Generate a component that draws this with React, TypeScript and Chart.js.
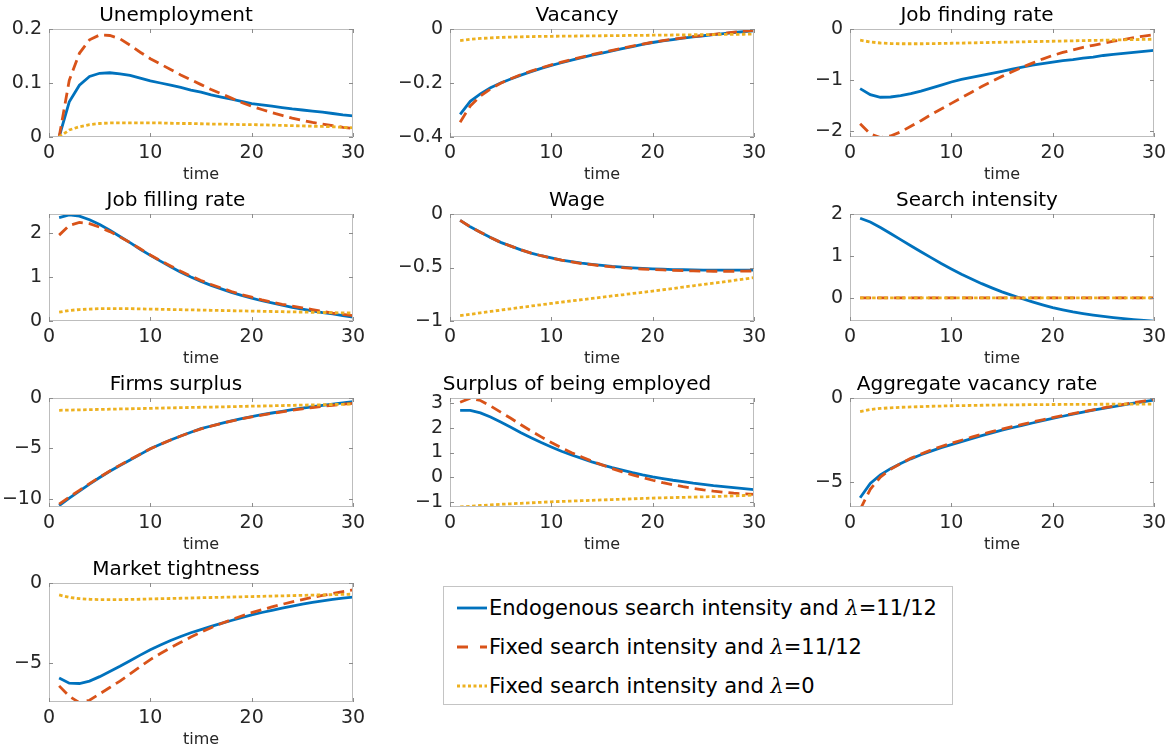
import React, { useEffect, useRef } from "react";
import { Chart, registerables } from "chart.js";
Chart.register(...registerables);

const FONT = "DejaVu Sans";
const BLUE = "#0072BD";
const RED = "#D95319";
const YELLOW = "#EDB120";

const time = [1, 2, 3, 4, 5, 6, 7, 8, 9, 10, 11, 12, 13, 14, 15, 16, 17, 18, 19, 20, 21, 22, 23, 24, 25, 26, 27, 28, 29, 30];
const xTicks = [0, 10, 20, 30];

const seriesLabels = [
  "Endogenous search intensity and λ=11/12",
  "Fixed search intensity and λ=11/12",
  "Fixed search intensity and λ=0",
];

const titles = [
  "Unemployment", "Vacancy", "Job finding rate", "Job filling rate", "Wage",
  "Search intensity", "Firms surplus", "Surplus of being employed",
  "Aggregate vacancy rate", "Market tightness",
];

// Unemployment
const uEndo = [0, 0.065, 0.096, 0.112, 0.118, 0.119, 0.117, 0.114, 0.109, 0.104, 0.100, 0.096, 0.092, 0.087, 0.083, 0.078, 0.074, 0.070, 0.066, 0.062, 0.0595, 0.057, 0.0545, 0.052, 0.050, 0.048, 0.046, 0.0435, 0.041, 0.039];
const uFixed = [0, 0.105, 0.155, 0.180, 0.189, 0.188, 0.182, 0.170, 0.157, 0.145, 0.135, 0.125, 0.115, 0.106, 0.097, 0.088, 0.080, 0.072, 0.064, 0.057, 0.051, 0.045, 0.040, 0.035, 0.031, 0.027, 0.024, 0.021, 0.018, 0.016];
const uZero = [0, 0.013, 0.019, 0.023, 0.025, 0.026, 0.026, 0.026, 0.026, 0.026, 0.026, 0.0255, 0.025, 0.025, 0.0245, 0.024, 0.024, 0.0235, 0.023, 0.023, 0.0225, 0.022, 0.0215, 0.021, 0.0205, 0.020, 0.0195, 0.019, 0.018, 0.017];

// Vacancy
const vEndo = [-0.316, -0.268, -0.240, -0.218, -0.200, -0.185, -0.171, -0.158, -0.146, -0.135, -0.125, -0.115, -0.106, -0.097, -0.089, -0.081, -0.073, -0.065, -0.057, -0.050, -0.044, -0.039, -0.034, -0.029, -0.025, -0.021, -0.017, -0.013, -0.010, -0.007];
const vFixed = [-0.345, -0.285, -0.248, -0.222, -0.201, -0.184, -0.169, -0.156, -0.144, -0.133, -0.123, -0.113, -0.104, -0.095, -0.087, -0.079, -0.071, -0.063, -0.056, -0.049, -0.043, -0.038, -0.033, -0.028, -0.024, -0.020, -0.016, -0.012, -0.008, -0.005];
const vZero = [-0.043, -0.038, -0.035, -0.033, -0.031, -0.030, -0.029, -0.028, -0.0275, -0.027, -0.0266, -0.0262, -0.0258, -0.0254, -0.025, -0.0246, -0.0242, -0.0238, -0.0234, -0.023, -0.0226, -0.0222, -0.0218, -0.0214, -0.021, -0.0206, -0.0202, -0.0198, -0.0194, -0.019];

// Job finding rate
const fEndo = [-1.17, -1.29, -1.34, -1.335, -1.31, -1.27, -1.22, -1.16, -1.10, -1.04, -0.99, -0.95, -0.91, -0.87, -0.83, -0.79, -0.75, -0.71, -0.68, -0.65, -0.62, -0.60, -0.57, -0.55, -0.52, -0.50, -0.48, -0.46, -0.44, -0.42];
const fFixed = [-1.86, -2.06, -2.13, -2.10, -2.02, -1.91, -1.80, -1.68, -1.57, -1.46, -1.35, -1.24, -1.13, -1.03, -0.93, -0.84, -0.75, -0.67, -0.59, -0.52, -0.46, -0.41, -0.36, -0.32, -0.28, -0.24, -0.21, -0.17, -0.14, -0.11];
const fZero = [-0.22, -0.255, -0.275, -0.285, -0.29, -0.29, -0.29, -0.287, -0.284, -0.28, -0.276, -0.272, -0.268, -0.264, -0.26, -0.256, -0.252, -0.248, -0.244, -0.24, -0.236, -0.232, -0.228, -0.224, -0.22, -0.216, -0.212, -0.208, -0.204, -0.20];

// Job filling rate
const jEndo = [2.35, 2.41, 2.38, 2.30, 2.19, 2.06, 1.92, 1.78, 1.63, 1.49, 1.36, 1.23, 1.11, 1.00, 0.90, 0.81, 0.73, 0.65, 0.58, 0.52, 0.46, 0.41, 0.36, 0.31, 0.27, 0.23, 0.19, 0.16, 0.12, 0.09];
const jFixed = [1.95, 2.17, 2.24, 2.21, 2.13, 2.03, 1.91, 1.78, 1.64, 1.50, 1.37, 1.25, 1.13, 1.02, 0.92, 0.83, 0.75, 0.67, 0.60, 0.54, 0.48, 0.43, 0.38, 0.34, 0.30, 0.26, 0.22, 0.18, 0.15, 0.12];
const jZero = [0.20, 0.24, 0.26, 0.27, 0.28, 0.28, 0.28, 0.28, 0.275, 0.27, 0.2655, 0.261, 0.2565, 0.252, 0.2475, 0.243, 0.2385, 0.234, 0.2295, 0.225, 0.2205, 0.216, 0.2115, 0.207, 0.2025, 0.198, 0.1935, 0.189, 0.1845, 0.18];

// Wage
const wEndo = [-0.06, -0.12, -0.17, -0.22, -0.265, -0.30, -0.335, -0.365, -0.39, -0.41, -0.43, -0.445, -0.46, -0.47, -0.48, -0.49, -0.497, -0.503, -0.508, -0.512, -0.516, -0.519, -0.521, -0.523, -0.524, -0.525, -0.525, -0.525, -0.525, -0.524];
const wFixed = [-0.06, -0.12, -0.17, -0.22, -0.265, -0.30, -0.335, -0.365, -0.39, -0.412, -0.432, -0.448, -0.463, -0.474, -0.485, -0.494, -0.502, -0.509, -0.514, -0.519, -0.523, -0.527, -0.530, -0.532, -0.534, -0.535, -0.535, -0.535, -0.534, -0.532];
const wZero = [-0.95, -0.937, -0.924, -0.911, -0.898, -0.886, -0.873, -0.860, -0.848, -0.836, -0.824, -0.812, -0.801, -0.789, -0.778, -0.766, -0.755, -0.743, -0.732, -0.720, -0.708, -0.696, -0.683, -0.671, -0.659, -0.646, -0.634, -0.621, -0.608, -0.595];

// Search intensity
const sEndo = [1.90, 1.81, 1.68, 1.535, 1.39, 1.245, 1.10, 0.96, 0.82, 0.69, 0.565, 0.45, 0.34, 0.24, 0.145, 0.06, -0.02, -0.095, -0.165, -0.23, -0.285, -0.335, -0.375, -0.41, -0.44, -0.47, -0.495, -0.515, -0.535, -0.555];
const sFixed = [0, 0, 0, 0, 0, 0, 0, 0, 0, 0, 0, 0, 0, 0, 0, 0, 0, 0, 0, 0, 0, 0, 0, 0, 0, 0, 0, 0, 0, 0];
const sZero = [0, 0, 0, 0, 0, 0, 0, 0, 0, 0, 0, 0, 0, 0, 0, 0, 0, 0, 0, 0, 0, 0, 0, 0, 0, 0, 0, 0, 0, 0];

// Firms surplus
const fsEndo = [-10.7, -9.95, -9.25, -8.55, -7.9, -7.28, -6.7, -6.15, -5.6, -5.05, -4.6, -4.18, -3.78, -3.4, -3.05, -2.78, -2.52, -2.28, -2.05, -1.85, -1.66, -1.49, -1.32, -1.16, -1.01, -0.87, -0.74, -0.61, -0.48, -0.36];
const fsFixed = [-10.55, -9.85, -9.17, -8.5, -7.86, -7.25, -6.67, -6.12, -5.58, -5.05, -4.6, -4.18, -3.78, -3.41, -3.07, -2.8, -2.54, -2.3, -2.08, -1.88, -1.7, -1.53, -1.37, -1.22, -1.08, -0.95, -0.83, -0.72, -0.62, -0.53];
const fsZero = [-1.22, -1.2, -1.18, -1.155, -1.135, -1.115, -1.09, -1.07, -1.05, -1.03, -1.0, -0.98, -0.96, -0.94, -0.92, -0.9, -0.88, -0.86, -0.835, -0.815, -0.795, -0.775, -0.75, -0.73, -0.71, -0.69, -0.67, -0.645, -0.625, -0.6];

// Surplus of being employed
const seEndo = [2.70, 2.70, 2.60, 2.43, 2.23, 2.02, 1.80, 1.60, 1.40, 1.22, 1.05, 0.90, 0.76, 0.62, 0.50, 0.39, 0.29, 0.19, 0.10, 0.02, -0.05, -0.12, -0.18, -0.24, -0.29, -0.34, -0.38, -0.42, -0.46, -0.50];
const seFixed = [3.03, 3.19, 3.10, 2.88, 2.63, 2.38, 2.12, 1.87, 1.63, 1.40, 1.19, 0.99, 0.82, 0.65, 0.50, 0.35, 0.22, 0.10, -0.01, -0.12, -0.22, -0.30, -0.38, -0.45, -0.51, -0.56, -0.60, -0.64, -0.67, -0.69];
const seZero = [-1.2, -1.17, -1.14, -1.115, -1.09, -1.07, -1.05, -1.03, -1.01, -0.99, -0.975, -0.96, -0.945, -0.93, -0.915, -0.90, -0.885, -0.87, -0.855, -0.84, -0.83, -0.82, -0.81, -0.80, -0.79, -0.78, -0.765, -0.75, -0.735, -0.72];

// Aggregate vacancy rate
const avEndo = [-5.9, -5.05, -4.55, -4.18, -3.88, -3.6, -3.36, -3.14, -2.94, -2.76, -2.58, -2.4, -2.23, -2.06, -1.9, -1.76, -1.62, -1.48, -1.34, -1.2, -1.08, -0.96, -0.84, -0.72, -0.61, -0.51, -0.41, -0.31, -0.21, -0.12];
const avFixed = [-6.6, -5.4, -4.68, -4.22, -3.88, -3.57, -3.31, -3.08, -2.87, -2.68, -2.5, -2.32, -2.15, -1.99, -1.84, -1.7, -1.56, -1.42, -1.29, -1.16, -1.04, -0.92, -0.81, -0.7, -0.59, -0.48, -0.38, -0.28, -0.18, -0.08];
const avZero = [-0.8, -0.68, -0.62, -0.58, -0.55, -0.53, -0.51, -0.49, -0.475, -0.46, -0.45, -0.44, -0.43, -0.42, -0.41, -0.405, -0.40, -0.395, -0.39, -0.385, -0.382, -0.379, -0.376, -0.373, -0.37, -0.368, -0.366, -0.364, -0.362, -0.36];

// Market tightness
const mtEndo = [-5.95, -6.28, -6.3, -6.15, -5.87, -5.55, -5.22, -4.87, -4.52, -4.18, -3.89, -3.6, -3.35, -3.12, -2.92, -2.72, -2.53, -2.35, -2.17, -2.0, -1.85, -1.71, -1.58, -1.45, -1.32, -1.22, -1.12, -1.03, -0.95, -0.88];
const mtFixed = [-6.45, -7.1, -7.5, -7.35, -6.95, -6.55, -6.15, -5.7, -5.25, -4.8, -4.42, -4.06, -3.72, -3.39, -3.08, -2.8, -2.54, -2.3, -2.07, -1.86, -1.68, -1.5, -1.34, -1.18, -1.04, -0.9, -0.78, -0.66, -0.54, -0.43];
const mtZero = [-0.75, -0.9, -0.98, -1.02, -1.04, -1.04, -1.04, -1.03, -1.02, -1.0, -0.985, -0.97, -0.955, -0.94, -0.925, -0.91, -0.895, -0.88, -0.865, -0.85, -0.835, -0.82, -0.805, -0.79, -0.775, -0.76, -0.745, -0.73, -0.715, -0.7];

// y-axis ranges and tick labels per panel
const yRanges = [[0, 0.2], [-0.4, 0], [-2.12, 0], [0, 2.43], [-1, 0], [-0.55, 2], [-10.83, 0], [-1.2, 3.2], [-6.45, 0], [-7.46, 0]];
const yTicks = [[0, 0.1, 0.2], [-0.4, -0.2, 0], [-2, -1, 0], [0, 1, 2], [-1, -0.5, 0], [0, 1, 2], [-10, -5, 0], [-1, 0, 1, 2, 3], [-5, 0], [-5, 0]];

const panelSeries = [
  [uEndo, uFixed, uZero], [vEndo, vFixed, vZero], [fEndo, fFixed, fZero],
  [jEndo, jFixed, jZero], [wEndo, wFixed, wZero], [sEndo, sFixed, sZero],
  [fsEndo, fsFixed, fsZero], [seEndo, seFixed, seZero], [avEndo, avFixed, avZero],
  [mtEndo, mtFixed, mtZero],
];

// layout: plot box [left, top, right, bottom] in page pixels
const boxes = [
  [49, 29, 353, 137], [450, 29, 754, 137], [850, 29, 1154, 137],
  [49, 214, 353, 321], [450, 214, 754, 321], [850, 214, 1154, 321],
  [49, 398, 353, 507], [450, 398, 754, 507], [850, 398, 1154, 507],
  [49, 583, 353, 702],
];
const Y_W = 50, TITLE_H = 29, X_H = 50, R_PAD = 20;

const fmt = (v: number) => {
  const s = String(Number(Math.abs(v).toFixed(3)));
  return v < 0 ? "\u2212" + s : s;
};

const boxPlugin = {
  id: "matlabBox",
  afterDatasetsDraw(chart: any) {
    const { ctx, chartArea: a, scales } = chart;
    const x = scales.x, y = scales.y;
    ctx.save();
    ctx.strokeStyle = "#bdbdbd";
    ctx.lineWidth = 1;
    ctx.strokeRect(a.left + 0.5, a.top + 0.5, a.right - a.left - 1, a.bottom - a.top - 1);
    ctx.strokeStyle = "#8c8c8c";
    ctx.beginPath();
    const tl = 4;
    x.ticks.forEach((t: any) => {
      const px = Math.round(x.getPixelForValue(t.value)) + 0.5;
      ctx.moveTo(px, a.bottom); ctx.lineTo(px, a.bottom - tl);
      ctx.moveTo(px, a.top); ctx.lineTo(px, a.top + tl);
    });
    y.ticks.forEach((t: any) => {
      const py = Math.round(y.getPixelForValue(t.value)) + 0.5;
      ctx.moveTo(a.left, py); ctx.lineTo(a.left + tl, py);
      ctx.moveTo(a.right, py); ctx.lineTo(a.right - tl, py);
    });
    ctx.stroke();
    ctx.restore();
  },
};

function Panel({ idx }: { idx: number }) {
  const ref = useRef<HTMLCanvasElement>(null);
  const [L, T, R, B] = boxes[idx];
  const w = R - L + Y_W + R_PAD;
  const h = B - T + TITLE_H + X_H;
  useEffect(() => {
    const [endo, fixed, zero] = panelSeries[idx];
    const mk = (arr: number[]) => time.map((t, i) => ({ x: t, y: arr[i] }));
    const chart = new Chart(ref.current as HTMLCanvasElement, {
      type: "line",
      data: {
        datasets: [
          { label: seriesLabels[0], data: mk(endo), borderColor: BLUE, borderWidth: 2.8, pointRadius: 0, tension: 0, fill: false, order: 3 },
          { label: seriesLabels[1], data: mk(fixed), borderColor: RED, borderWidth: 2.8, borderDash: [11, 6], pointRadius: 0, tension: 0, fill: false, order: 2 },
          { label: seriesLabels[2], data: mk(zero), borderColor: YELLOW, borderWidth: 2.8, borderDash: [3.5, 2.5], pointRadius: 0, tension: 0, fill: false, order: 1 },
        ],
      },
      options: {
        animation: false,
        responsive: false,
        devicePixelRatio: 1,
        layout: { padding: { left: 0, right: R_PAD, top: 0, bottom: 0 } },
        plugins: {
          legend: { display: false },
          tooltip: { enabled: false },
          title: {
            display: true,
            text: titles[idx],
            color: "#000",
            font: { family: FONT, size: 20, weight: "normal", lineHeight: 1.2 },
            padding: { top: 4, bottom: 1 },
          },
        },
        scales: {
          x: {
            type: "linear",
            min: 0,
            max: 30,
            afterBuildTicks: (s: any) => { s.ticks = xTicks.map((v) => ({ value: v })); },
            afterFit: (s: any) => { s.height = X_H; },
            grid: { display: false, drawTicks: false },
            border: { display: false },
            ticks: { color: "#262626", font: { family: FONT, size: 19 }, padding: 5, maxRotation: 0, callback: (v: any) => fmt(Number(v)) },
            title: { display: true, text: "time", color: "#262626", font: { family: FONT, size: 16 }, padding: { top: 0, bottom: 3 } },
          },
          y: {
            type: "linear",
            min: yRanges[idx][0],
            max: yRanges[idx][1],
            afterBuildTicks: (s: any) => { s.ticks = yTicks[idx].map((v) => ({ value: v })); },
            afterFit: (s: any) => { s.width = Y_W; },
            grid: { display: false, drawTicks: false },
            border: { display: false },
            ticks: { color: "#262626", font: { family: FONT, size: 19 }, padding: 7, callback: (v: any) => fmt(Number(v)) },
          },
        },
      },
      plugins: [boxPlugin],
    } as any);
    return () => chart.destroy();
  }, [idx]);
  return (
    <canvas
      ref={ref}
      width={w}
      height={h}
      style={{ position: "absolute", left: L - Y_W, top: T - TITLE_H, width: w, height: h }}
    />
  );
}

function LegendSample({ kind }: { kind: number }) {
  const colors = [BLUE, RED, YELLOW];
  const dash = [undefined, "11,12", "3,2.5"];
  return (
    <svg width={30} height={8} style={{ position: "absolute", left: 13, top: -4 }}>
      <line x1={0} y1={4} x2={30} y2={4} stroke={colors[kind]} strokeWidth={2.8} strokeDasharray={dash[kind]} />
    </svg>
  );
}

function Legend() {
  const rowY = [22, 61, 100];
  return (
    <div
      style={{
        position: "absolute", left: 443, top: 586, width: 510, height: 119,
        border: "1px solid #c4c4c4", boxSizing: "border-box", background: "#fff",
        fontFamily: FONT, fontSize: 21, color: "#000",
      }}
    >
      {seriesLabels.map((lab, i) => {
        const parts = lab.split("λ");
        return (
          <div key={i} style={{ position: "absolute", left: 0, top: rowY[i] - 1, height: 0 }}>
            <LegendSample kind={i} />
            <span style={{ position: "absolute", left: 45, top: -13, whiteSpace: "nowrap", lineHeight: "26px" }}>
              {parts[0]}
              <span style={{ fontFamily: "DejaVu Serif", fontStyle: "italic" }}>λ</span>
              {parts[1]}
            </span>
          </div>
        );
      })}
    </div>
  );
}

export default function App() {
  return (
    <div style={{ position: "absolute", left: 0, top: 0, width: 1174, height: 749, overflow: "hidden", background: "#fff" }}>
      {titles.map((_, i) => (
        <Panel key={i} idx={i} />
      ))}
      <Legend />
    </div>
  );
}
